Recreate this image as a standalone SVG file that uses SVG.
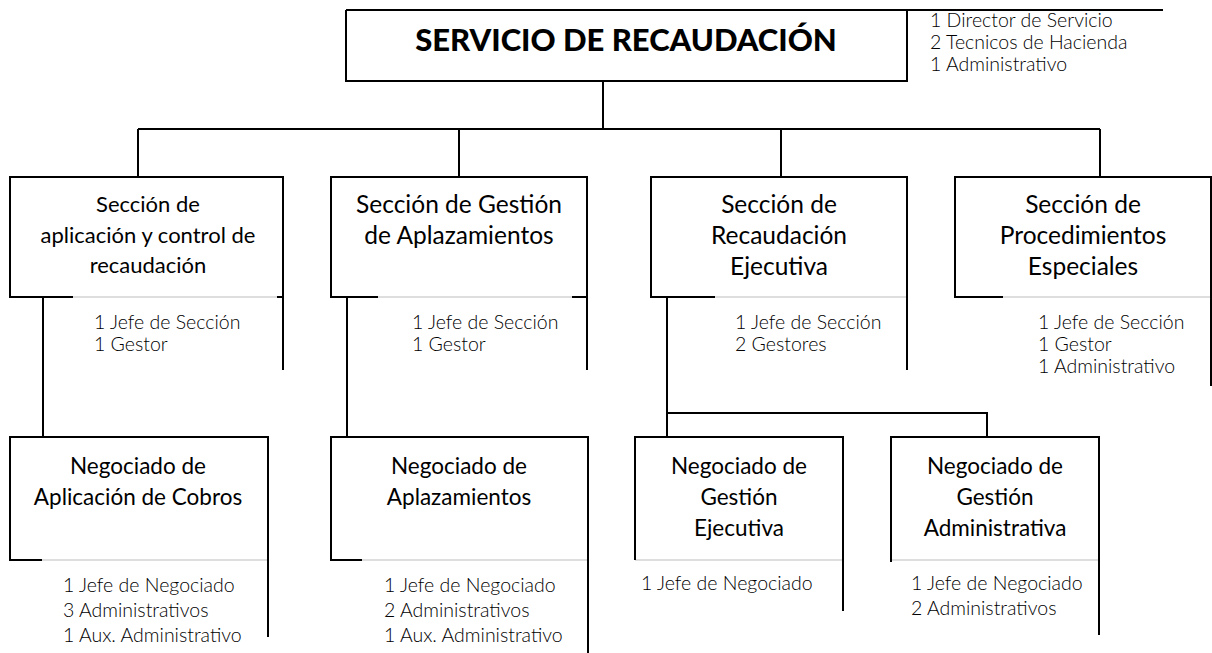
<svg xmlns="http://www.w3.org/2000/svg" width="1212" height="653" viewBox="0 0 1212 653">
<style>
  .bx{fill:none;stroke:#000;stroke-width:2}
  .gr{fill:none;stroke:#bdbdbd;stroke-width:1}
  .cn{fill:none;stroke:#000;stroke-width:2}
  .t{font-family:Lato,"Liberation Sans",sans-serif;fill:#000;text-anchor:middle}
  .tt{font-family:Lato,"Liberation Sans",sans-serif;font-weight:900;font-size:31px;fill:#000;text-anchor:middle}
  .s{font-family:Lato,"Liberation Sans",sans-serif;font-weight:300;font-size:19.5px;fill:#000}
  .top{font-size:19.5px}
  .f24{font-size:24.5px}
  .f22{font-size:22.5px}
  .fa{font-size:22px}
</style>
<rect width="1212" height="653" fill="#fff"/>
<g id="connectors">
  <path class="cn" d="M603 81V129M138 129H1100M138 129V177M459 129V177M781 129V177M1100 129V177"/>
  <path class="cn" d="M43 297V437M347 297V437M667 297V413H987V437M667 413V437"/>
</g>
<g id="servicio">
  <path class="bx" d="M346 10H1163M346 10V81H907V10"/>
  <text class="tt" x="626" y="51">SERVICIO DE RECAUDACIÓN</text>
  <text class="s top" x="930" y="27">1 Director de Servicio</text>
  <text class="s top" x="930" y="49">2 Tecnicos de Hacienda</text>
  <text class="s top" x="930" y="71">1 Administrativo</text>
</g>
<g id="seccion-aplicacion">
  <path class="gr" d="M73 297H277"/>
  <path class="bx" d="M73 297H10V177H283V370M277 297H283"/>
  <text class="t fa" x="148" y="212">Sección de</text>
  <text class="t fa" x="148" y="243">aplicación y control de</text>
  <text class="t fa" x="148" y="273">recaudación</text>
  <text class="s" x="94" y="329">1 Jefe de Sección</text>
  <text class="s" x="94" y="351">1 Gestor</text>
</g>
<g id="seccion-aplazamientos">
  <path class="gr" d="M378 297H572"/>
  <path class="bx" d="M378 297H331V177H587V370M572 297H587"/>
  <text class="t f24" x="459" y="213">Sección de Gestión</text>
  <text class="t f24" x="459" y="244">de Aplazamientos</text>
  <text class="s" x="412" y="329">1 Jefe de Sección</text>
  <text class="s" x="412" y="351">1 Gestor</text>
</g>
<g id="seccion-ejecutiva">
  <path class="gr" d="M715 297H907"/>
  <path class="bx" d="M715 297H651V177H907V370"/>
  <text class="t f24" x="779" y="213">Sección de</text>
  <text class="t f24" x="779" y="244">Recaudación</text>
  <text class="t f24" x="779" y="275">Ejecutiva</text>
  <text class="s" x="735" y="329">1 Jefe de Sección</text>
  <text class="s" x="735" y="351">2 Gestores</text>
</g>
<g id="seccion-especiales">
  <path class="gr" d="M1003 297H1211"/>
  <path class="bx" d="M1003 297H955V177H1211V386"/>
  <text class="t f24" x="1083" y="213">Sección de</text>
  <text class="t f24" x="1083" y="244">Procedimientos</text>
  <text class="t f24" x="1083" y="275">Especiales</text>
  <text class="s" x="1038" y="329">1 Jefe de Sección</text>
  <text class="s" x="1038" y="351">1 Gestor</text>
  <text class="s" x="1038" y="373">1 Administrativo</text>
</g>
<g id="negociado-cobros">
  <path class="gr" d="M42 560H268"/>
  <path class="bx" d="M42 560H10V437H268V637"/>
  <text class="t f22" x="138" y="474">Negociado de</text>
  <text class="t f22" x="138" y="505">Aplicación de Cobros</text>
  <text class="s" x="63" y="592">1 Jefe de Negociado</text>
  <text class="s" x="63" y="617">3 Administrativos</text>
  <text class="s" x="63" y="642">1 Aux. Administrativo</text>
</g>
<g id="negociado-aplazamientos">
  <path class="gr" d="M362 560H588"/>
  <path class="bx" d="M362 560H331V437H588V653"/>
  <text class="t f22" x="459" y="474">Negociado de</text>
  <text class="t f22" x="459" y="505">Aplazamientos</text>
  <text class="s" x="384" y="592">1 Jefe de Negociado</text>
  <text class="s" x="384" y="617">2 Administrativos</text>
  <text class="s" x="384" y="642">1 Aux. Administrativo</text>
</g>
<g id="negociado-ejecutiva">
  <path class="gr" d="M635 560H843"/>
  <path class="bx" d="M635 560V437H843V611"/>
  <text class="t f22" x="739" y="474">Negociado de</text>
  <text class="t f22" x="739" y="505">Gestión</text>
  <text class="t f22" x="739" y="536">Ejecutiva</text>
  <text class="s" x="641" y="590">1 Jefe de Negociado</text>
</g>
<g id="negociado-administrativa">
  <path class="gr" d="M891 560H1099"/>
  <path class="bx" d="M891 562V437H1099V635"/>
  <text class="t f22" x="995" y="474">Negociado de</text>
  <text class="t f22" x="995" y="505">Gestión</text>
  <text class="t f22" x="995" y="536">Administrativa</text>
  <text class="s" x="911" y="590">1 Jefe de Negociado</text>
  <text class="s" x="911" y="615">2 Administrativos</text>
</g>
</svg>
